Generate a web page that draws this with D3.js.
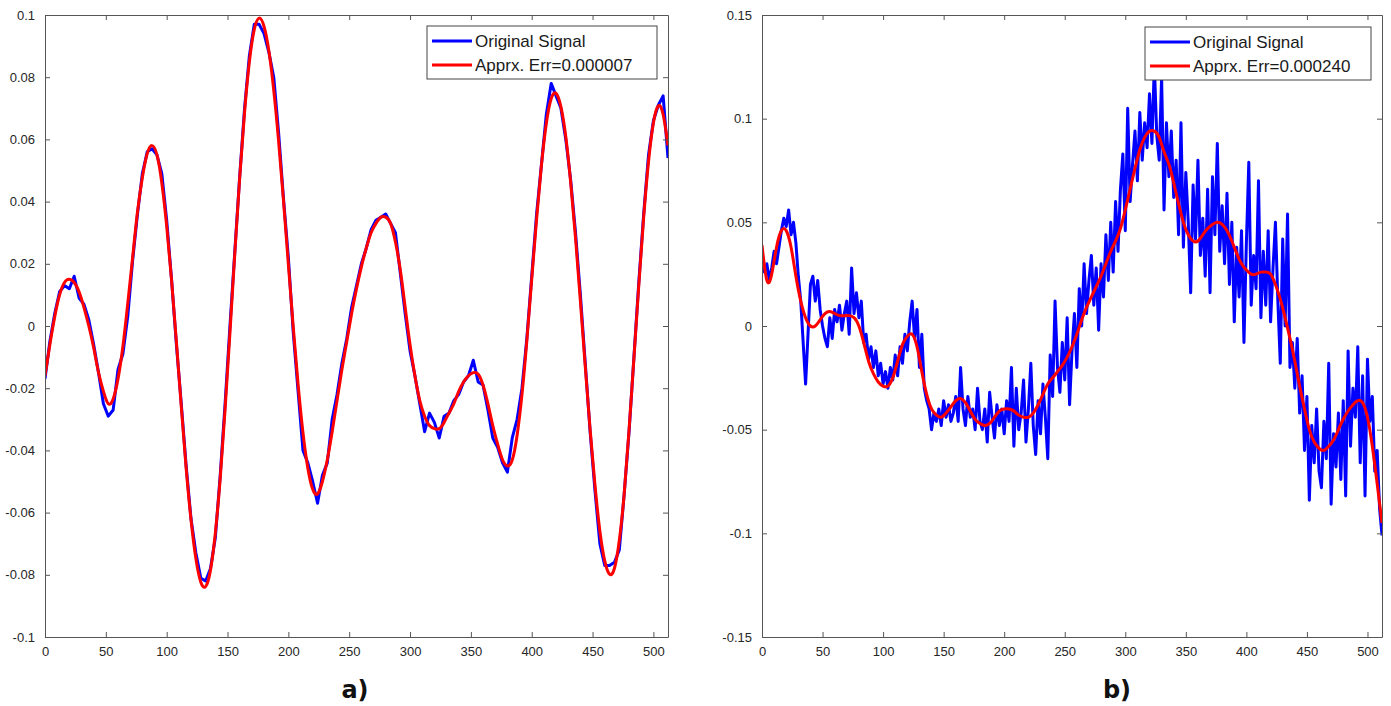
<!DOCTYPE html>
<html>
<head>
<meta charset="utf-8">
<script src="https://cdn.jsdelivr.net/npm/d3@7"></script>
<style>
  html, body { margin: 0; padding: 0; background: #ffffff; }
  svg { display: block; }
  .tick-label { font-family: "Liberation Sans", Arial, sans-serif; font-size: 13px; fill: #262626; }
  .legend-text { font-family: "Liberation Sans", Arial, sans-serif; font-size: 17px; fill: #1a1a1a; }
  .panel-label { font-family: "DejaVu Sans", sans-serif; font-size: 24px; font-weight: bold; fill: #111; }
</style>
</head>
<body>
<svg id="chart" width="1391" height="706"></svg>
<script>
// ---- Panel a): smooth signal, sampled every 4 samples ----
const xStepA = 4;
const signalA = [
  -0.017, -0.005, 0.004, 0.011, 0.013, 0.012, 0.016, 0.009, 0.007, 0.002,
  -0.006, -0.015, -0.025, -0.029, -0.027, -0.014, -0.009, 0.003, 0.021, 0.036,
  0.049, 0.056, 0.057, 0.055, 0.049, 0.034, 0.015, -0.006, -0.025, -0.045,
  -0.062, -0.073, -0.081, -0.082, -0.078, -0.068, -0.048, -0.025, 0.000, 0.024,
  0.048, 0.070, 0.087, 0.097, 0.097, 0.094, 0.088, 0.080, 0.062, 0.041,
  0.022, -0.002, -0.021, -0.040, -0.044, -0.050, -0.057, -0.048, -0.044, -0.030,
  -0.022, -0.012, -0.004, 0.006, 0.013, 0.020, 0.025, 0.031, 0.034, 0.035,
  0.036, 0.033, 0.030, 0.017, 0.004, -0.008, -0.016, -0.025, -0.034, -0.028,
  -0.031, -0.036, -0.029, -0.028, -0.024, -0.022, -0.018, -0.016, -0.011, -0.018,
  -0.019, -0.027, -0.036, -0.039, -0.044, -0.047, -0.036, -0.030, -0.020, -0.004,
  0.016, 0.036, 0.052, 0.068, 0.078, 0.074, 0.070, 0.060, 0.047, 0.030,
  0.010, -0.012, -0.034, -0.053, -0.070, -0.077, -0.077, -0.076, -0.072, -0.054,
  -0.034, -0.010, 0.014, 0.036, 0.055, 0.066, 0.071, 0.074, 0.054
];
const approxA = [
  -0.016, -0.006, 0.003, 0.010, 0.014, 0.015, 0.014, 0.011, 0.006, 0.000,
  -0.007, -0.015, -0.021, -0.025, -0.0235, -0.017, -0.0066, 0.0072, 0.022, 0.0367,
  0.0477, 0.0554, 0.058, 0.055, 0.046, 0.0322, 0.0148, -0.0052, -0.0259, -0.0457,
  -0.0623, -0.0748, -0.0823, -0.0838, -0.0785, -0.0665, -0.049, -0.0268, -0.0021, 0.0234,
  0.0476, 0.0687, 0.0851, 0.0954, 0.099, 0.0963, 0.0884, 0.0758, 0.0594, 0.0403,
  0.0199, -0.0003, -0.0188, -0.0343, -0.0457, -0.0525, -0.054, -0.050, -0.043, -0.034,
  -0.024, -0.014, -0.005, 0.004, 0.012, 0.019, 0.025, 0.030, 0.033, 0.035,
  0.035, 0.033, 0.027, 0.018, 0.006, -0.006, -0.016, -0.024, -0.029, -0.032,
  -0.033, -0.033, -0.031, -0.028, -0.025, -0.021, -0.018, -0.016, -0.015, -0.0155,
  -0.019, -0.025, -0.032, -0.038, -0.043, -0.045, -0.0431, -0.0351, -0.022, -0.0047,
  0.015, 0.0344, 0.0517, 0.0651, 0.0731, 0.0748, 0.0705, 0.0609, 0.0462, 0.0283,
  0.008, -0.013, -0.0333, -0.0512, -0.0659, -0.0755, -0.0798, -0.0779, -0.0689, -0.054,
  -0.0334, -0.0104, 0.0131, 0.0349, 0.0529, 0.0653, 0.0708, 0.068, 0.058
];

// ---- Panel b): noisy signal every 2 samples, approximation every 4 ----
const xStepB = 2;
const signalB = [
  0.035, 0.026, 0.030, 0.022, 0.028, 0.036, 0.030, 0.038, 0.046, 0.052,
  0.048, 0.056, 0.044, 0.050, 0.040, 0.024, 0.012, -0.008, -0.028, -0.004,
  0.020, 0.024, 0.012, 0.022, 0.008, 0.000, -0.006, -0.010, 0.004, -0.006,
  0.008, 0.002, 0.010, -0.002, 0.006, 0.012, -0.004, 0.028, 0.006, 0.016,
  0.004, 0.012, -0.008, -0.004, -0.016, -0.010, -0.020, -0.012, -0.024, -0.018,
  -0.028, -0.022, -0.030, -0.020, -0.026, -0.014, -0.024, -0.010, -0.018, -0.004,
  -0.012, 0.002, 0.012, -0.006, 0.008, -0.020, -0.004, -0.030, -0.036, -0.040,
  -0.050, -0.042, -0.046, -0.040, -0.048, -0.036, -0.044, -0.038, -0.046, -0.042,
  -0.034, -0.046, -0.020, -0.040, -0.048, -0.034, -0.044, -0.040, -0.050, -0.030,
  -0.046, -0.050, -0.040, -0.056, -0.032, -0.044, -0.054, -0.038, -0.048, -0.040,
  -0.052, -0.036, -0.046, -0.020, -0.058, -0.030, -0.050, -0.042, -0.026, -0.056,
  -0.040, -0.018, -0.048, -0.062, -0.036, -0.052, -0.028, -0.044, -0.064, -0.014,
  -0.034, 0.012, -0.020, -0.032, -0.008, -0.026, 0.004, -0.038, -0.012, 0.006,
  -0.020, 0.018, 0.000, 0.030, 0.006, 0.022, 0.034, 0.010, 0.028, -0.002,
  0.030, 0.014, 0.044, 0.022, 0.050, 0.026, 0.060, 0.036, 0.066, 0.083,
  0.046, 0.105, 0.060, 0.078, 0.094, 0.070, 0.103, 0.080, 0.098, 0.086,
  0.112, 0.088, 0.126, 0.092, 0.080, 0.120, 0.056, 0.098, 0.072, 0.094,
  0.062, 0.080, 0.044, 0.098, 0.038, 0.074, 0.050, 0.016, 0.068, 0.042,
  0.080, 0.034, 0.052, 0.024, 0.066, 0.016, 0.072, 0.044, 0.088, 0.036,
  0.058, 0.030, 0.064, 0.020, 0.050, 0.002, 0.038, 0.014, 0.046, -0.008,
  0.040, 0.079, 0.010, 0.034, 0.018, 0.070, 0.004, 0.036, 0.010, 0.046,
  0.002, 0.028, 0.050, 0.012, -0.018, 0.042, 0.000, 0.054, -0.020, -0.008,
  -0.030, -0.006, -0.042, -0.024, -0.060, -0.034, -0.084, -0.048, -0.066, -0.040,
  -0.070, -0.078, -0.046, -0.064, -0.018, -0.086, -0.052, -0.068, -0.042, -0.074,
  -0.036, -0.082, -0.012, -0.058, -0.030, -0.044, -0.010, -0.066, -0.024, -0.082,
  -0.016, -0.046, -0.034, -0.070, -0.060, -0.088,
  -0.101
];
const xStepApproxB = 4;
const approxB = [
  0.039, 0.022, 0.025, 0.038, 0.046, 0.046, 0.038, 0.024, 0.012, 0.004,
  0.000, 0.000, 0.003, 0.006, 0.007, 0.006, 0.005, 0.005, 0.005, 0.004,
  0.000, -0.008, -0.017, -0.023, -0.027, -0.029, -0.029, -0.025, -0.017, -0.009,
  -0.005, -0.004, -0.010, -0.022, -0.033, -0.040, -0.043, -0.044, -0.042, -0.039,
  -0.036, -0.035, -0.037, -0.041, -0.045, -0.047, -0.048, -0.047, -0.044, -0.041,
  -0.040, -0.040, -0.041, -0.043, -0.044, -0.044, -0.042, -0.038, -0.033, -0.028,
  -0.025, -0.022, -0.019, -0.015, -0.010, -0.004, 0.003, 0.009, 0.014, 0.019,
  0.024, 0.030, 0.036, 0.041, 0.047, 0.056, 0.066, 0.076, 0.085, 0.091,
  0.094, 0.094, 0.091, 0.084, 0.078, 0.069, 0.059, 0.050, 0.044, 0.041,
  0.041, 0.044, 0.047, 0.049, 0.050, 0.049, 0.046, 0.041, 0.035, 0.030,
  0.027, 0.025, 0.025, 0.026, 0.026, 0.025, 0.020, 0.013, 0.004, -0.006,
  -0.017, -0.029, -0.040, -0.050, -0.056, -0.059, -0.060, -0.058, -0.055, -0.050,
  -0.045, -0.041, -0.038, -0.036, -0.037, -0.044, -0.058, -0.076, -0.095
];

// ---- Axis ticks ----
const xTicks = [0, 50, 100, 150, 200, 250, 300, 350, 400, 450, 500];
const yTicksA = [-0.1, -0.08, -0.06, -0.04, -0.02, 0, 0.02, 0.04, 0.06, 0.08, 0.1];
const yTickLabelsA = ["-0.1", "-0.08", "-0.06", "-0.04", "-0.02", "0", "0.02", "0.04", "0.06", "0.08", "0.1"];
const yTicksB = [-0.15, -0.1, -0.05, 0, 0.05, 0.1, 0.15];
const yTickLabelsB = ["-0.15", "-0.1", "-0.05", "0", "0.05", "0.1", "0.15"];

const legendLabels = ["Original Signal"];
const errLabelsA = "Apprx. Err=0.000007";
const errLabelsB = "Apprx. Err=0.000240";

const svg = d3.select("#chart");

function drawPanel(cfg) {
  const x = d3.scaleLinear().domain([0, 512]).range([cfg.left, cfg.right]);
  const y = d3.scaleLinear().domain(cfg.yDomain).range([cfg.bottom, cfg.top]);
  const g = svg.append("g");

  const clipId = "clip-" + cfg.id;
  g.append("clipPath").attr("id", clipId)
    .append("rect")
    .attr("x", cfg.left).attr("y", cfg.top)
    .attr("width", cfg.right - cfg.left).attr("height", cfg.bottom - cfg.top);

  const plot = g.append("g").attr("clip-path", `url(#${clipId})`);

  const sig = cfg.signal.map((v, i) => [i * cfg.sigStep, v]);
  const app = cfg.approx.map((v, i) => [i * cfg.appStep, v]);

  plot.append("path")
    .datum(sig)
    .attr("fill", "none")
    .attr("stroke", "#0000ff")
    .attr("stroke-width", 3)
    .attr("stroke-linejoin", "round")
    .attr("d", d3.line().x(d => x(d[0])).y(d => y(d[1])).curve(cfg.sigCurve));

  plot.append("path")
    .datum(app)
    .attr("fill", "none")
    .attr("stroke", "#ff0000")
    .attr("stroke-width", 3)
    .attr("stroke-linejoin", "round")
    .attr("d", d3.line().x(d => x(d[0])).y(d => y(d[1])).curve(d3.curveNatural));

  // Frame with ticks on all four sides, pointing inward
  const tickLen = 5;
  const axisColor = "#555";
  const bottomAxis = d3.axisBottom(x).tickValues(xTicks).tickSizeInner(-tickLen).tickSizeOuter(0).tickPadding(10);
  const topAxis = d3.axisTop(x).tickValues(xTicks).tickSizeInner(-tickLen).tickSizeOuter(0).tickFormat("");
  const leftAxis = d3.axisLeft(y).tickValues(cfg.yTicks).tickSizeInner(-tickLen).tickSizeOuter(0).tickPadding(10)
    .tickFormat((d, i) => cfg.yLabels[i]);
  const rightAxis = d3.axisRight(y).tickValues(cfg.yTicks).tickSizeInner(-tickLen).tickSizeOuter(0).tickFormat("");

  const axes = [
    g.append("g").attr("transform", `translate(0,${cfg.bottom})`).call(bottomAxis),
    g.append("g").attr("transform", `translate(0,${cfg.top})`).call(topAxis),
    g.append("g").attr("transform", `translate(${cfg.left},0)`).call(leftAxis),
    g.append("g").attr("transform", `translate(${cfg.right},0)`).call(rightAxis)
  ];
  axes.forEach(a => {
    a.select(".domain").attr("stroke", axisColor);
    a.selectAll(".tick line").attr("stroke", axisColor);
    a.selectAll(".tick text").attr("class", "tick-label").attr("fill", null);
    a.attr("font-family", null).attr("font-size", null);
  });

  // Legend
  const lg = g.append("g");
  lg.append("rect")
    .attr("x", cfg.legend.x).attr("y", cfg.legend.y)
    .attr("width", cfg.legend.w).attr("height", cfg.legend.h)
    .attr("fill", "#fff").attr("stroke", "#444").attr("stroke-width", 1);
  const rows = [
    { label: legendLabels[0], color: "#0000ff" },
    { label: cfg.errLabel, color: "#ff0000" }
  ];
  rows.forEach((r, i) => {
    const cy = cfg.legend.y + 15 + i * 24;
    lg.append("line")
      .attr("x1", cfg.legend.x + 5).attr("x2", cfg.legend.x + 45)
      .attr("y1", cy).attr("y2", cy)
      .attr("stroke", r.color).attr("stroke-width", 3);
    lg.append("text")
      .attr("class", "legend-text")
      .attr("x", cfg.legend.x + 48).attr("y", cy)
      .attr("dy", "0.35em")
      .text(r.label);
  });

  g.append("text")
    .attr("class", "panel-label")
    .attr("x", cfg.labelX).attr("y", 698)
    .attr("text-anchor", "middle")
    .text(cfg.label);
}

drawPanel({
  id: "a", left: 45, right: 668, top: 15, bottom: 637,
  yDomain: [-0.1, 0.1], yTicks: yTicksA, yLabels: yTickLabelsA,
  signal: signalA, sigStep: xStepA, sigCurve: d3.curveLinear,
  approx: approxA, appStep: xStepA,
  errLabel: errLabelsA,
  legend: { x: 427, y: 26, w: 230, h: 53 },
  label: "a)", labelX: 355
});

drawPanel({
  id: "b", left: 762, right: 1382, top: 15, bottom: 637,
  yDomain: [-0.15, 0.15], yTicks: yTicksB, yLabels: yTickLabelsB,
  signal: signalB, sigStep: xStepB, sigCurve: d3.curveLinear,
  approx: approxB, appStep: xStepApproxB,
  errLabel: errLabelsB,
  legend: { x: 1145, y: 27, w: 226, h: 53 },
  label: "b)", labelX: 1117
});
</script>
</body>
</html>
